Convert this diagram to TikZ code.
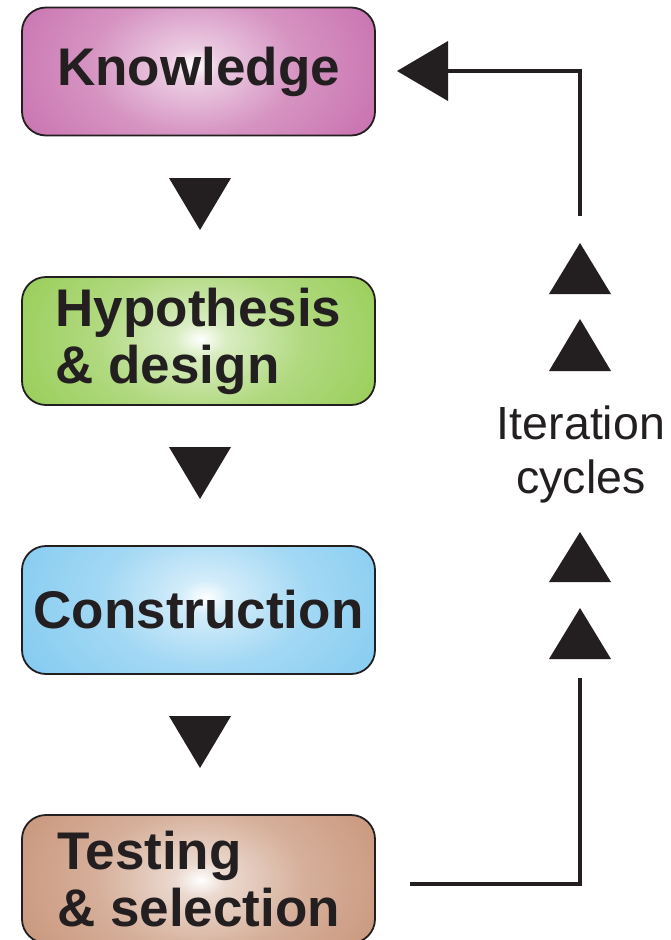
\documentclass[tikz,border=0pt]{standalone}
\usepackage{fontspec}
\setmainfont{Liberation Sans}
\usetikzlibrary{calc}
\definecolor{inkc}{RGB}{35,31,32}
\definecolor{knowC}{RGB}{184,70,150}
\definecolor{hypC}{RGB}{120,190,36}
\definecolor{consC}{RGB}{96,188,236}
\definecolor{testC}{RGB}{184,118,82}
\colorlet{stagecol}{red}
\pgfdeclareradialshading[stagecol]{stageshade}{\pgfpointorigin}{%
  color(0bp)=(white); color(3bp)=(stagecol!28!white); color(12bp)=(stagecol!58!white);
  color(30bp)=(stagecol!86!white); color(42bp)=(stagecol); color(50bp)=(stagecol)}
\tikzset{
  stage/.style n args={3}{draw=inkc, line width=1.8pt, rounded corners=24pt,
    minimum width=353pt, minimum height=128pt, inner sep=0pt, fill=#1,
    font=\fontsize{53}{57}\selectfont\bfseries, text=inkc,
    path picture={\colorlet{stagecol}{#1}%
      \shade[shading=stageshade] ($(path picture bounding box.center)+(#2,#3)$)
        +(-215,-145) rectangle +(215,145);}},
  arrowhead/.style={fill=inkc},
  link/.style={draw=inkc, line width=3.5pt},
  note/.style={font=\fontsize{46.5}{54}\selectfont, text=inkc, align=center, inner sep=0pt}
}
\begin{document}
\begin{tikzpicture}[x=1pt,y=-1pt]
\useasboundingbox (0,0) rectangle (671,940);
\fill[white] (0,0) rectangle (671,940);

\node[stage={knowC}{-5}{-6}, align=center] (know) at (198.5,71.5) {Knowledge};
\node[stage={hypC}{2}{-2}, align=left] (hyp) at (198.5,341) {Hypothesis\\\& design};
\node[stage={consC}{7}{-13}, align=center] (cons) at (198.5,610) {Construction};
\node[stage={testC}{2}{1}, align=left] (test) at (198.5,879) {Testing\\\& selection};

% down arrowheads
\fill[arrowhead] (169,178) -- (231,178) -- (200,230) -- cycle;
\fill[arrowhead] (169,447) -- (231,447) -- (200,499) -- cycle;
\fill[arrowhead] (169,716) -- (231,716) -- (200,768) -- cycle;

% up arrowheads
\fill[arrowhead] (549,294) -- (611,294) -- (580,243) -- cycle;
\fill[arrowhead] (549,371) -- (611,371) -- (580,319) -- cycle;
\fill[arrowhead] (549,582) -- (611,582) -- (580,532) -- cycle;
\fill[arrowhead] (549,659) -- (611,659) -- (580,608) -- cycle;

% left arrowhead
\fill[arrowhead] (448,41) -- (448,101) -- (397,71) -- cycle;

\node[note] (iter) at (581,454) {Iteration\\cycles};

\coordinate (loopstart) at (410,884);
\coordinate (loopup) at (580,678);
\coordinate (looptop) at (580,216);
\coordinate (loopend) at (448,71);
\draw[link] (loopstart) -| (loopup);
\draw[link] (looptop) |- (loopend);
\end{tikzpicture}
\end{document}
